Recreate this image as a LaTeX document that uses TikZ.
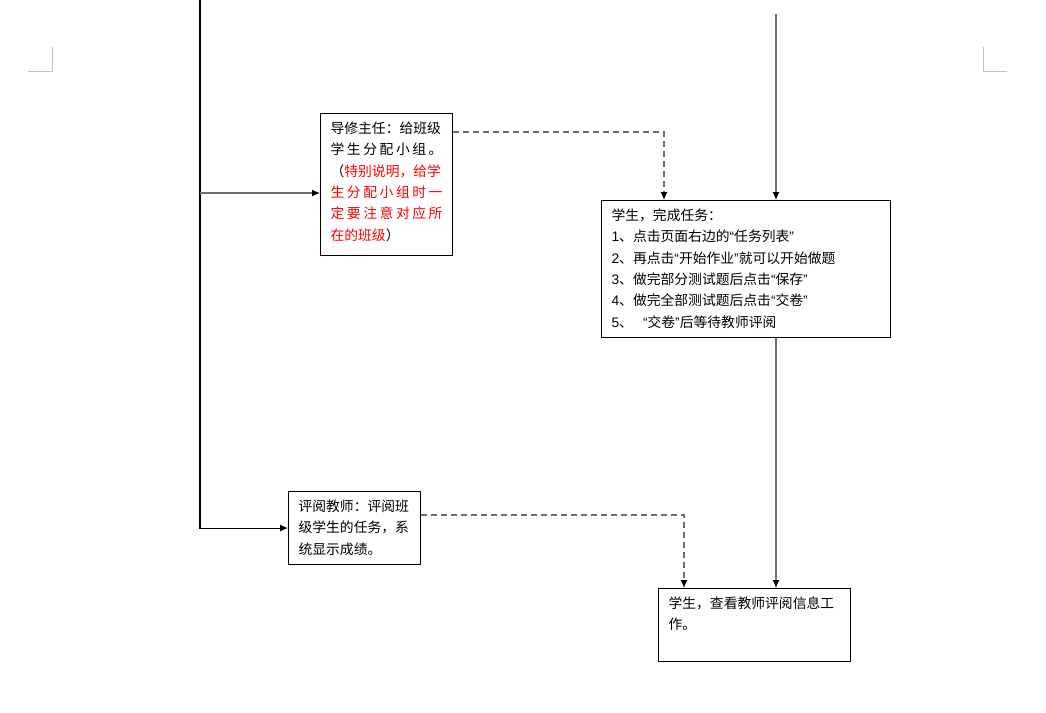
\documentclass[tikz,border=0pt]{standalone}
\usepackage{fontspec}
\setmainfont{Noto Sans CJK SC}
\newfontfamily\latin{Liberation Sans}
\usetikzlibrary{arrows.meta}

\definecolor{linegray}{RGB}{110,110,110}
\definecolor{markgray}{RGB}{195,195,195}
\definecolor{notered}{RGB}{255,0,0}

\newcommand\q[1]{{\latin “}#1{\latin ”}}
\newcommand\nr[1]{{\latin #1}}
\newcommand\spreadline[1]{\makebox[112pt][s]{#1}}

\begin{document}
\begin{tikzpicture}[x=1pt, y=-1pt, >={Latex[length=8pt,width=7pt,color=black]}
  , box/.style={ draw, line width=1.1pt
               , anchor=north west, align=left
               , inner xsep=10pt, inner ysep=6pt
               , text height=14pt
               , font={\fontsize{13.8}{21.3}\selectfont}
               }
  , link/.style={->, draw=linegray, line width=1.3pt}
  , dashlink/.style={->, draw=linegray, dashed, dash pattern=on 6pt off 4pt, line width=1.3pt}]

  \useasboundingbox (0,0) rectangle (1046,712);

  % page corner marks
  \draw [markgray] (28,71) -- (52,71) -- (52,47);
  \draw [markgray] (1007,71) -- (983,71) -- (983,47);

  \node [box, text width=112pt, text depth=116pt] (lead) at (320,113)
    {导修主任：给班级\\
     \spreadline{学\hfill 生\hfill 分\hfill 配\hfill 小\hfill 组\hfill 。}\\
     （\textcolor{notered}{特别说明，给学}\\
     \textcolor{notered}{\spreadline{生\hfill 分\hfill 配\hfill 小\hfill 组\hfill 时\hfill 一}}\\
     \textcolor{notered}{\spreadline{定\hfill 要\hfill 注\hfill 意\hfill 对\hfill 应\hfill 所}}\\
     \textcolor{notered}{在的班级}）};

  \node [box, text width=269pt, text depth=111pt] (task) at (601,200)
    {学生，完成任务：\\
     \nr{1}、点击页面右边的\q{任务列表}\\
     \nr{2}、再点击\q{开始作业}就可以开始做题\\
     \nr{3}、做完部分测试题后点击\q{保存}\\
     \nr{4}、做完全部测试题后点击\q{交卷}\\
     \nr{5}、\hspace{10pt}\q{交卷}后等待教师评阅};

  \node [box, text width=112pt, text depth=47pt] (review) at (288,491)
    {评阅教师：评阅班\\
     级学生的任务，系\\
     统显示成绩。};

  \node [box, text width=172pt, text depth=47pt] (result) at (658,588)
    {学生，查看教师评阅信息工\\
     作。};

  % trunk lines
  \coordinate (ltop) at (200,0);
  \coordinate (lfork) at (200,193);
  \coordinate (rtop) at (776,14);

  \draw [link, draw=black, line width=1.1pt] (ltop) |- (review.west);
  \draw [link] (lfork) -- (lfork -| lead.west);
  \draw [link] (rtop) -- (rtop |- task.north);
  \draw [link] (rtop |- task.south) -- (rtop |- result.north);

  % dashed hand-overs
  \draw [dashlink] ([yshift=-19pt]lead.north east) -| ([xshift=63pt]task.north west);
  \draw [dashlink] ([yshift=-24pt]review.north east) -| ([xshift=26pt]result.north west);

\end{tikzpicture}
\end{document}
